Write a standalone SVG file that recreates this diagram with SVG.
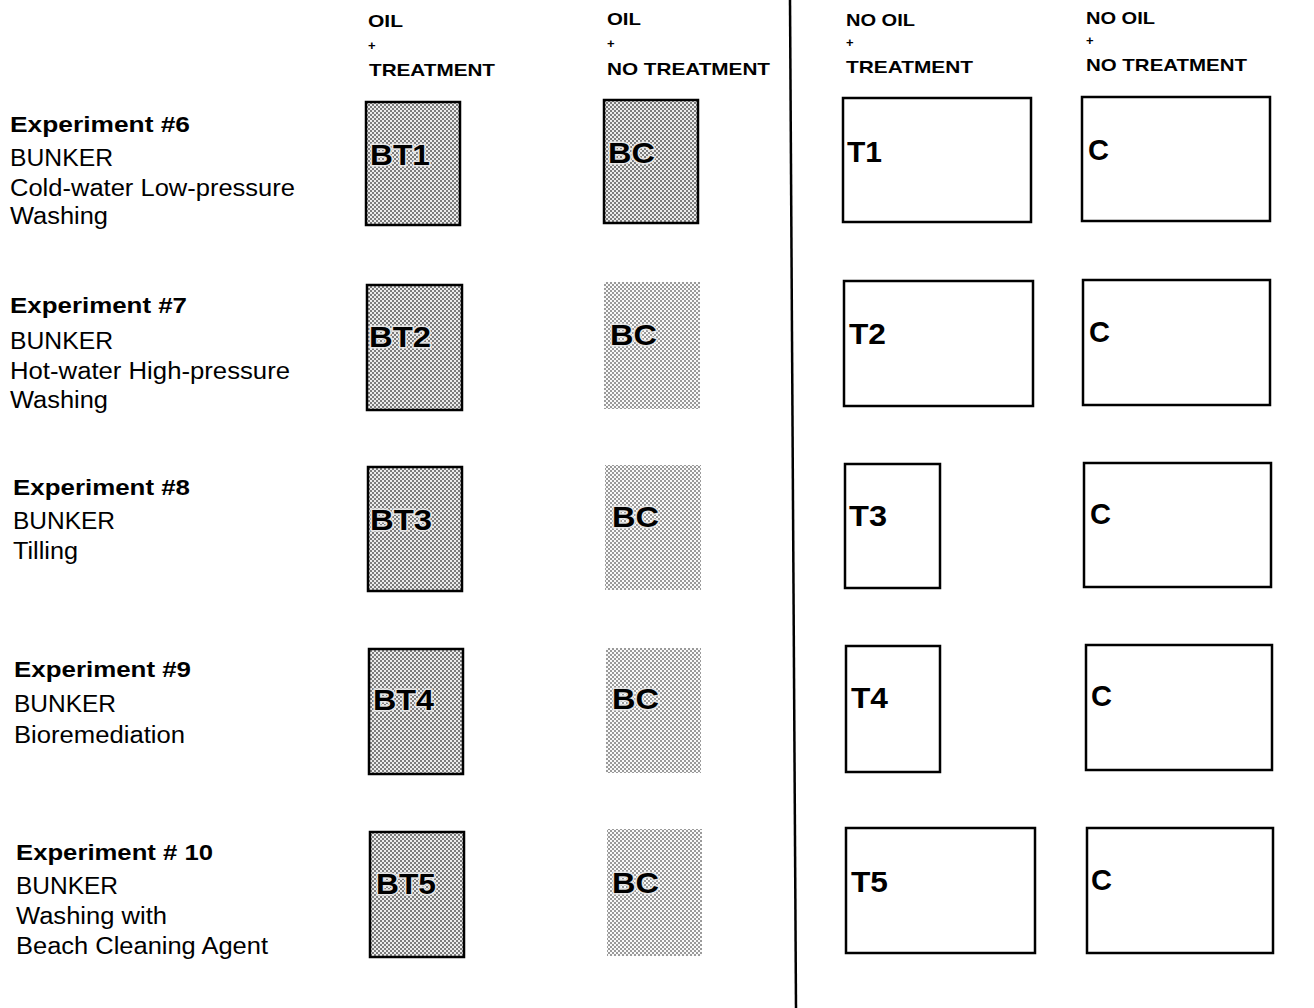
<svg xmlns="http://www.w3.org/2000/svg" width="1314" height="1008" viewBox="0 0 1314 1008">
<defs>
<pattern id="dark" patternUnits="userSpaceOnUse" width="4" height="4">
<rect width="4" height="4" fill="#ececec"/>
<rect x="0" y="0" width="2" height="2" fill="#7c7c7c"/>
<rect x="2" y="2" width="2" height="2" fill="#7c7c7c"/>
</pattern>
<pattern id="light" patternUnits="userSpaceOnUse" width="4" height="4">
<rect width="4" height="4" fill="#fafafa"/>
<rect x="0" y="0" width="2" height="2" fill="#9a9a9a"/>
<rect x="2" y="2" width="2" height="2" fill="#9a9a9a"/>
</pattern>
</defs>
<style>
text{font-family:"Liberation Sans",Arial,sans-serif;fill:#000}
.hd{font-size:17px;font-weight:bold}
.pl{font-size:13px;font-weight:bold}
.ex{font-size:22px;font-weight:bold}
.tx{font-size:23px}
.lb{font-size:30px;font-weight:bold}
.sh{stroke:#e4e4e4;stroke-width:3;paint-order:stroke}
.bx{stroke:#000;stroke-width:2.5}
.dk{fill:url(#dark)}
.lt{fill:url(#light)}
.wh{fill:#fff}
</style>
<rect width="1314" height="1008" fill="#fff"/>

<g id="headers">
<text class="hd" x="368" y="27" textLength="35" lengthAdjust="spacingAndGlyphs">OIL</text>
<text class="pl" x="368" y="50">+</text>
<text class="hd" x="369" y="76" textLength="126" lengthAdjust="spacingAndGlyphs">TREATMENT</text>
<text class="hd" x="607" y="25" textLength="34" lengthAdjust="spacingAndGlyphs">OIL</text>
<text class="pl" x="607" y="48">+</text>
<text class="hd" x="607" y="75" textLength="163" lengthAdjust="spacingAndGlyphs">NO TREATMENT</text>
<text class="hd" x="846" y="26" textLength="69" lengthAdjust="spacingAndGlyphs">NO OIL</text>
<text class="pl" x="846" y="47">+</text>
<text class="hd" x="846" y="73" textLength="127" lengthAdjust="spacingAndGlyphs">TREATMENT</text>
<text class="hd" x="1086" y="24" textLength="69" lengthAdjust="spacingAndGlyphs">NO OIL</text>
<text class="pl" x="1086" y="45">+</text>
<text class="hd" x="1086" y="71" textLength="161" lengthAdjust="spacingAndGlyphs">NO TREATMENT</text>
</g>

<g id="divider">
<line x1="790" y1="0" x2="796" y2="1008" stroke="#000" stroke-width="2.5"/>
</g>

<g id="exp6">
<text class="ex" x="10" y="132" textLength="180" lengthAdjust="spacingAndGlyphs">Experiment #6</text>
<text class="tx" x="10" y="166" textLength="103" lengthAdjust="spacingAndGlyphs">BUNKER</text>
<text class="tx" x="10" y="196" textLength="285" lengthAdjust="spacingAndGlyphs">Cold-water Low-pressure</text>
<text class="tx" x="10" y="224" textLength="98" lengthAdjust="spacingAndGlyphs">Washing</text>
</g>
<g id="exp7">
<text class="ex" x="10" y="313" textLength="177" lengthAdjust="spacingAndGlyphs">Experiment #7</text>
<text class="tx" x="10" y="349" textLength="103" lengthAdjust="spacingAndGlyphs">BUNKER</text>
<text class="tx" x="10" y="379" textLength="280" lengthAdjust="spacingAndGlyphs">Hot-water High-pressure</text>
<text class="tx" x="10" y="408" textLength="98" lengthAdjust="spacingAndGlyphs">Washing</text>
</g>
<g id="exp8">
<text class="ex" x="13" y="495" textLength="177" lengthAdjust="spacingAndGlyphs">Experiment #8</text>
<text class="tx" x="13" y="529" textLength="102" lengthAdjust="spacingAndGlyphs">BUNKER</text>
<text class="tx" x="13" y="559" textLength="65" lengthAdjust="spacingAndGlyphs">Tilling</text>
</g>
<g id="exp9">
<text class="ex" x="14" y="677" textLength="177" lengthAdjust="spacingAndGlyphs">Experiment #9</text>
<text class="tx" x="14" y="712" textLength="102" lengthAdjust="spacingAndGlyphs">BUNKER</text>
<text class="tx" x="14" y="743" textLength="171" lengthAdjust="spacingAndGlyphs">Bioremediation</text>
</g>
<g id="exp10">
<text class="ex" x="16" y="860" textLength="197" lengthAdjust="spacingAndGlyphs">Experiment # 10</text>
<text class="tx" x="16" y="894" textLength="102" lengthAdjust="spacingAndGlyphs">BUNKER</text>
<text class="tx" x="16" y="924" textLength="151" lengthAdjust="spacingAndGlyphs">Washing with</text>
<text class="tx" x="16" y="954" textLength="252" lengthAdjust="spacingAndGlyphs">Beach Cleaning Agent</text>
</g>

<g id="BT1"><rect class="bx dk" x="366" y="102" width="94" height="123"/><text class="lb sh" x="370" y="165" textLength="60" lengthAdjust="spacingAndGlyphs">BT1</text></g>
<g id="BC1"><rect class="bx dk" x="604" y="100" width="94" height="123"/><text class="lb sh" x="608" y="163" textLength="47" lengthAdjust="spacingAndGlyphs">BC</text></g>
<g id="T1"><rect class="bx wh" x="843" y="98" width="188" height="124"/><text class="lb" x="847" y="162" textLength="35" lengthAdjust="spacingAndGlyphs">T1</text></g>
<g id="C1"><rect class="bx wh" x="1082" y="97" width="188" height="124"/><text class="lb" x="1088" y="160" textLength="21" lengthAdjust="spacingAndGlyphs">C</text></g>

<g id="BT2"><rect class="bx dk" x="367" y="285" width="95" height="125"/><text class="lb sh" x="369" y="347" textLength="62" lengthAdjust="spacingAndGlyphs">BT2</text></g>
<g id="BC2"><rect class="lt" x="604" y="282" width="96" height="127"/><text class="lb sh" x="610" y="345" textLength="47" lengthAdjust="spacingAndGlyphs">BC</text></g>
<g id="T2"><rect class="bx wh" x="844" y="281" width="189" height="125"/><text class="lb" x="849" y="344" textLength="37" lengthAdjust="spacingAndGlyphs">T2</text></g>
<g id="C2"><rect class="bx wh" x="1083" y="280" width="187" height="125"/><text class="lb" x="1089" y="342" textLength="21" lengthAdjust="spacingAndGlyphs">C</text></g>

<g id="BT3"><rect class="bx dk" x="368" y="467" width="94" height="124"/><text class="lb sh" x="370" y="530" textLength="62" lengthAdjust="spacingAndGlyphs">BT3</text></g>
<g id="BC3"><rect class="lt" x="605" y="465" width="96" height="125"/><text class="lb sh" x="612" y="527" textLength="47" lengthAdjust="spacingAndGlyphs">BC</text></g>
<g id="T3"><rect class="bx wh" x="845" y="464" width="95" height="124"/><text class="lb" x="849" y="526" textLength="38" lengthAdjust="spacingAndGlyphs">T3</text></g>
<g id="C3"><rect class="bx wh" x="1084" y="463" width="187" height="124"/><text class="lb" x="1090" y="524" textLength="21" lengthAdjust="spacingAndGlyphs">C</text></g>

<g id="BT4"><rect class="bx dk" x="369" y="649" width="94" height="125"/><text class="lb sh" x="373" y="710" textLength="61" lengthAdjust="spacingAndGlyphs">BT4</text></g>
<g id="BC4"><rect class="lt" x="606" y="648" width="95" height="125"/><text class="lb sh" x="612" y="709" textLength="47" lengthAdjust="spacingAndGlyphs">BC</text></g>
<g id="T4"><rect class="bx wh" x="846" y="646" width="94" height="126"/><text class="lb" x="851" y="708" textLength="37" lengthAdjust="spacingAndGlyphs">T4</text></g>
<g id="C4"><rect class="bx wh" x="1086" y="645" width="186" height="125"/><text class="lb" x="1091" y="706" textLength="21" lengthAdjust="spacingAndGlyphs">C</text></g>

<g id="BT5"><rect class="bx dk" x="370" y="832" width="94" height="125"/><text class="lb sh" x="376" y="894" textLength="60" lengthAdjust="spacingAndGlyphs">BT5</text></g>
<g id="BC5"><rect class="lt" x="607" y="829" width="95" height="127"/><text class="lb sh" x="612" y="893" textLength="47" lengthAdjust="spacingAndGlyphs">BC</text></g>
<g id="T5"><rect class="bx wh" x="846" y="828" width="189" height="125"/><text class="lb" x="851" y="892" textLength="37" lengthAdjust="spacingAndGlyphs">T5</text></g>
<g id="C5"><rect class="bx wh" x="1087" y="828" width="186" height="125"/><text class="lb" x="1091" y="890" textLength="21" lengthAdjust="spacingAndGlyphs">C</text></g>
</svg>
